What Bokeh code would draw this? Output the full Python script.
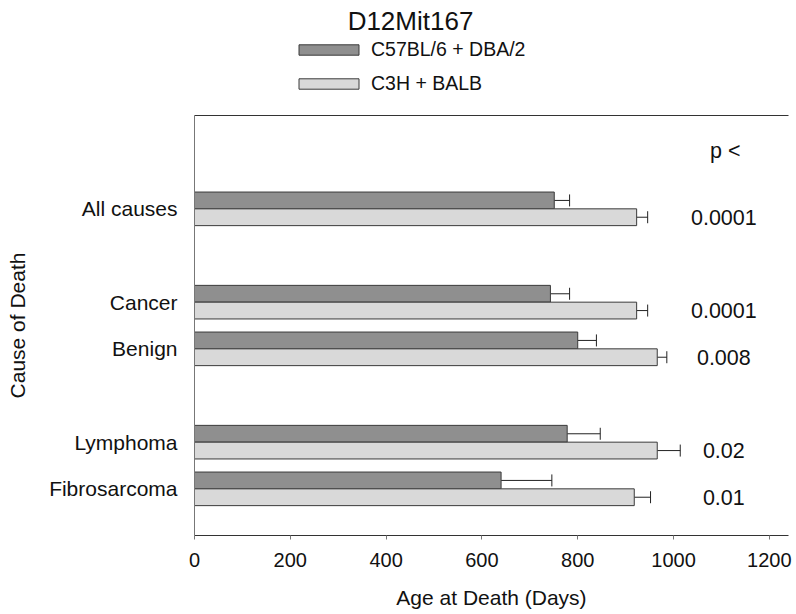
from bokeh.plotting import figure
from bokeh.layouts import column
from bokeh.models import (ColumnDataSource, Range1d, FixedTicker, LinearAxis, Legend,
                          LegendItem, Whisker, TeeHead, Label)
from bokeh.transform import dodge
from bokeh.core.properties import value
from bokeh.embed import file_html
from bokeh.resources import INLINE

FONT = "Liberation Sans"

# ---- data -------------------------------------------------------------
causes = ["All causes", "Cancer", "Benign", "Lymphoma", "Fibrosarcoma"]
cause_rows = [7, 5, 4, 2, 1]          # row position of each cause on the y axis (gaps between groups)
b6_dba = [751, 743, 800, 778, 640]    # C57BL/6 + DBA/2 mean age at death (days)
b6_dba_err = [32, 40, 39, 69, 106]
c3h_balb = [923, 923, 966, 966, 918]  # C3H + BALB
c3h_balb_err = [23, 23, 20, 48, 34]
p_values = ["0.0001", "0.0001", "0.008", "0.02", "0.01"]
x_ticks = [0, 200, 400, 600, 800, 1000, 1200]
series_names = ["C57BL/6 + DBA/2", "C3H + BALB"]
title_text = "D12Mit167"

DARK_FILL = "#8f8f8f"
LIGHT_FILL = "#d9d9d9"
EDGE = "#3a3a3a"
TXT = "#111111"
BAR_H = 0.36
W = 796

src = ColumnDataSource(dict(
    row=cause_rows, cause=causes,
    dark=b6_dba, dark_hi=[v + e for v, e in zip(b6_dba, b6_dba_err)],
    light=c3h_balb, light_hi=[v + e for v, e in zip(c3h_balb, c3h_balb_err)],
    p=p_values, p_x=[1105] * len(p_values),
))

# ---- header: title + legend (frame is aligned with the main chart's frame) ----
head = figure(width=W, height=100, output_backend="svg", toolbar_location=None,
              x_range=Range1d(0, 1), y_range=Range1d(0, 1), min_border=0)
head.axis.visible = False
head.grid.visible = False
head.outline_line_color = None
h_dark = head.hbar(y="row", right="dark", height=BAR_H, source=src,
                   fill_color=DARK_FILL, line_color=EDGE, visible=False)
h_light = head.hbar(y="row", right="light", height=BAR_H, source=src,
                    fill_color=LIGHT_FILL, line_color=EDGE, visible=False)
head.add_layout(Label(x=216, y=80, x_units="screen", y_units="screen", text=title_text,
                      text_font=FONT, text_font_size="26px", text_align="center",
                      text_baseline="middle", text_color=TXT))
legend = Legend(items=[LegendItem(label=series_names[0], renderers=[h_dark]),
                       LegendItem(label=series_names[1], renderers=[h_light])],
                location=(97, 5), glyph_width=75, glyph_height=13, label_standoff=5,
                label_height=20, label_text_font=FONT, label_text_font_size="19.5px",
                label_text_color=TXT, label_text_baseline="middle",
                spacing=11, padding=0, margin=0, border_line_color=None,
                background_fill_alpha=0, inactive_fill_alpha=0)
head.add_layout(legend)

# ---- main chart ---------------------------------------------------------
p = figure(width=W, height=514, output_backend="svg", toolbar_location=None,
           x_range=Range1d(0, 1240), y_range=Range1d(0, 9),
           min_border_left=194, min_border_right=8, min_border_top=15, min_border_bottom=79)
p.outline_line_color = None
p.grid.visible = False

r_dark = p.hbar(y=dodge("row", 0.18, range=p.y_range), left=0, right="dark", height=BAR_H,
                source=src, fill_color=DARK_FILL, line_color=EDGE, line_width=1)
r_light = p.hbar(y=dodge("row", -0.18, range=p.y_range), left=0, right="light", height=BAR_H,
                 source=src, fill_color=LIGHT_FILL, line_color=EDGE, line_width=1)

for lo, hi, off in (("dark", "dark_hi", 0.18), ("light", "light_hi", -0.18)):
    w = Whisker(source=src, base=dodge("row", off, range=p.y_range), lower=lo, upper=hi,
                dimension="width", line_color="#222222", line_width=1,
                lower_head=None, upper_head=TeeHead(size=12, line_color="#222222", line_width=1))
    p.add_layout(w)

p.text(x="p_x", y=dodge("row", -0.18, range=p.y_range), text="p", source=src,
       text_font=value(FONT), text_font_size="21.5px", text_align="center",
       text_baseline="middle", text_color=TXT)
p.add_layout(Label(x=1108, y=8.25, text="p <", text_font=FONT, text_font_size="21.5px",
                   text_align="center", text_baseline="middle", text_color=TXT))

xa = p.xaxis[0]
xa.ticker = FixedTicker(ticks=x_ticks)
xa.axis_label = "Age at Death (Days)"
xa.axis_label_text_font = FONT
xa.axis_label_text_font_style = "normal"
xa.axis_label_text_font_size = "21px"
xa.axis_label_text_color = TXT
xa.axis_label_standoff = 16
xa.major_label_text_font = FONT
xa.major_label_text_font_size = "20px"
xa.major_label_text_color = TXT
xa.major_label_standoff = 13
xa.major_tick_in = 0
xa.major_tick_out = 4
xa.minor_tick_line_color = None
xa.axis_line_color = "#333333"
xa.major_tick_line_color = "#777777"

ya = p.yaxis[0]
ya.ticker = FixedTicker(ticks=cause_rows)
ya.major_label_overrides = {r: c for r, c in zip(cause_rows, causes)}
ya.axis_label = "Cause of Death"
ya.axis_label_text_font = FONT
ya.axis_label_text_font_style = "normal"
ya.axis_label_text_font_size = "21px"
ya.axis_label_text_color = TXT
ya.axis_label_standoff = 17
ya.major_label_text_font = FONT
ya.major_label_text_font_size = "21px"
ya.major_label_text_color = TXT
ya.major_label_standoff = 11
ya.major_tick_line_color = None
ya.minor_tick_line_color = None
ya.axis_line_color = "#777777"

top = LinearAxis(ticker=FixedTicker(ticks=[]), major_label_text_font_size="0px",
                 major_tick_line_color=None, minor_tick_line_color=None,
                 axis_line_color="#333333")
p.add_layout(top, "above")

layout = column(head, p, spacing=0)
open("out.html", "w").write(file_html(layout, INLINE))
